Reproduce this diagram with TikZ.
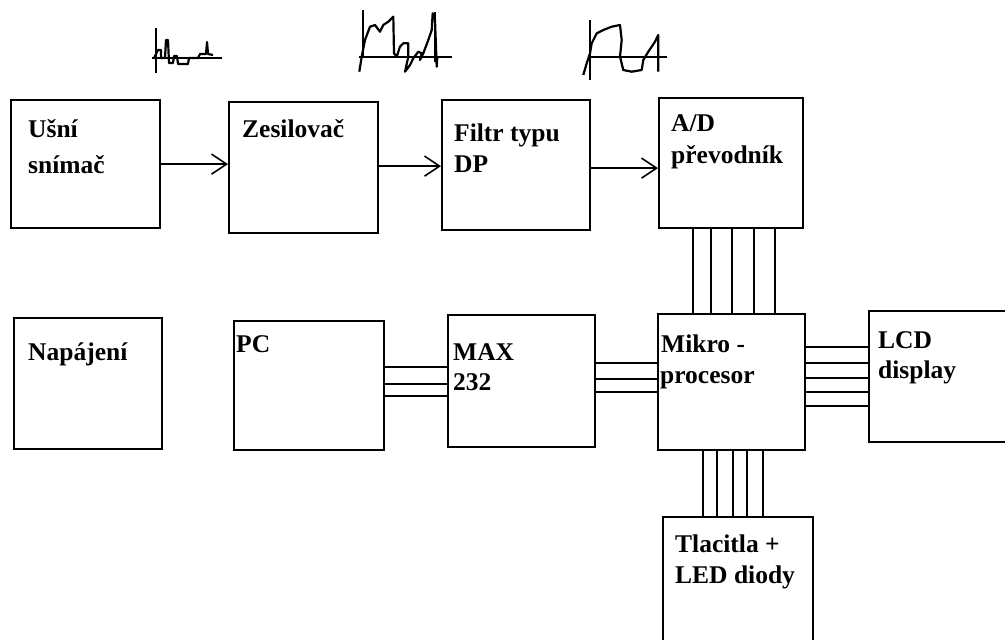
\documentclass[tikz,border=0pt]{standalone}
\usepackage{fontspec}
\setmainfont{Liberation Serif}
\usetikzlibrary{arrows.meta}
\begin{document}
\begin{tikzpicture}[x=1pt,y=-1pt,
  box/.style={draw,line width=2.2pt,anchor=north west,inner sep=0pt},
  lbl/.style={anchor=base west,inner sep=0pt,font=\fontsize{25.5}{25.5}\selectfont\bfseries},
  wire/.style={line width=2pt},
  arr/.style={line width=2pt,-{Straight Barb[length=15pt,width=20pt,line width=1.6pt]}},
  wave/.style={line width=2.2pt,line join=round}]
\useasboundingbox (0,0) rectangle (1005,640);
\fill[white] (0,0) rectangle (1005,640);
% top row
\node[box,minimum width=149pt,minimum height=128pt] (usni) at (10,99) {};
\node[box,minimum width=149pt,minimum height=131pt] (zes) at (228,101) {};
\node[box,minimum width=148pt,minimum height=130pt] (filtr) at (441,99) {};
\node[box,minimum width=144pt,minimum height=130pt] (ad) at (658,97) {};
% bottom row
\node[box,minimum width=148pt,minimum height=131pt] (nap) at (13,317) {};
\node[box,minimum width=150pt,minimum height=129pt] (pc) at (233,320) {};
\node[box,minimum width=147pt,minimum height=132pt] (max) at (447,314) {};
\node[box,minimum width=147pt,minimum height=136pt] (mikro) at (657,313) {};
\node[box,minimum width=140pt,minimum height=131pt] (lcd) at (868,310) {};
\node[box,minimum width=150pt,minimum height=130pt] (tl) at (662,516) {};
% labels
\node[lbl] (usniA) at (28,137) {Ušní};
\node[lbl] (usniB) at (28,173) {snímač};
\node[lbl] (zesA) at (242,137) {Zesilovač};
\node[lbl] (filtrA) at (454,141) {Filtr typu};
\node[lbl] (filtrB) at (454,172) {DP};
\node[lbl] (adA) at (671,131) {A/D};
\node[lbl] (adB) at (671,163) {převodník};
\node[lbl] (napA) at (28,360) {Napájení};
\node[lbl] (pcA) at (236,352) {PC};
\node[lbl] (maxA) at (453,360) {MAX};
\node[lbl] (maxB) at (453,390) {232};
\node[lbl] (mikroA) at (661,352) {Mikro -};
\node[lbl] (mikroB) at (660,383) {procesor};
\node[lbl] (lcdA) at (878,348) {LCD};
\node[lbl] (lcdB) at (878,378) {display};
\node[lbl] (tlA) at (675,552) {Tlacitla +};
\node[lbl] (tlB) at (675,583) {LED diody};
% arrows
\draw[arr] (usni.east) -- (usni.east -| zes.west);
\draw[arr] ([yshift=1.5pt]zes.east) -- ([yshift=1.5pt]zes.east -| filtr.west);
\draw[arr] ([yshift=-3pt]filtr.east) -- ([yshift=-3pt]filtr.east -| ad.west);
% buses
\foreach \x in {693,711,732,754,775}
  \draw[wire] (ad.south -| \x,0) -- (mikro.north -| \x,0);
\foreach \x in {703,717,733,747,763}
  \draw[wire] (mikro.south -| \x,0) -- (tl.north -| \x,0);
\foreach \y in {367,384,396}
  \draw[wire] (pc.east |- 0,\y) -- (max.west |- 0,\y);
\foreach \y in {363,379,392}
  \draw[wire] (max.east |- 0,\y) -- (mikro.west |- 0,\y);
\foreach \y in {347,363,378,392,406}
  \draw[wire] (mikro.east |- 0,\y) -- (lcd.west |- 0,\y);
% waveform 1
\draw[wave] (156,28) -- (156,73);
\draw[wave] (152,58) -- (222,58);
\draw[wave] (154,58) -- (158,50) -- (161,50) -- (161,58) -- (165,58) -- (166,40) -- (168,40) -- (169,63) -- (173,63) -- (174,56) -- (177,56) -- (178,64) -- (188,64) -- (189,58) -- (198,58) -- (200,54) -- (206,54) -- (207,42) -- (208,54) -- (213,55);
% waveform 2
\draw[wave] (363,10) -- (363,57);
\draw[wave] (359,57) -- (452,57);
\draw[wave] (359.3,71.7) -- (361.7,56.7) -- (365,40) -- (370,26.7) -- (375,25) -- (380,31.7) -- (383.3,25) -- (388.3,21.7) -- (393.3,16.7) -- (394,53.3) -- (396.7,56.7) -- (400,46.7) -- (403.3,43.3) -- (408.3,43.3) -- (408.3,56.7) -- (405,71.7) -- (410,65) -- (413.3,58.3) -- (418.3,51.7) -- (421.7,53.3) -- (420,60) -- (423.3,53.3) -- (428.3,40) -- (431.7,30) -- (432.7,13.3) -- (435,20) -- (436.7,66.7) -- (437.3,56.7);
\draw[wave] (435,12) -- (435,62);
% waveform 3
\draw[wave] (590,20) -- (590,80);
\draw[wave] (588,57) -- (667,57);
\draw[wave] (583.3,75) -- (586.7,63.3) -- (590,53.3) -- (591.7,43.3) -- (596.7,33.3) -- (603.3,30) -- (611.7,26.7) -- (620,25) -- (621.7,40) -- (620,56.7) -- (623.3,70) -- (631.7,71.7) -- (641.7,70) -- (643.3,60) -- (648.3,51.7) -- (655,41.7) -- (658.3,35) -- (658.3,71.7);
\end{tikzpicture}
\end{document}
